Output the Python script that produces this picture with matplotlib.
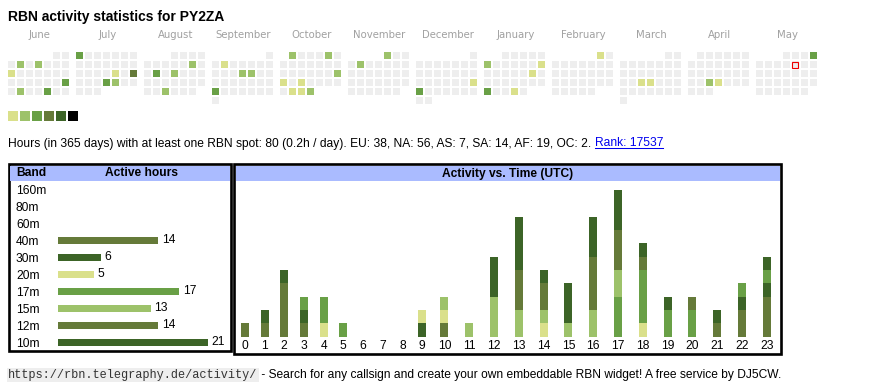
import calendar
import datetime as dt

import matplotlib
matplotlib.use("Agg")
import matplotlib.pyplot as plt
from matplotlib.patches import Rectangle

callsign = "PY2ZA"
first_month = (2024, 6)
today = dt.date(2025, 5, 9)

active_dates = [
    "2024-06-04", "2024-06-06", "2024-06-10", "2024-06-23", "2024-06-25", "2024-06-28",
    "2024-07-01", "2024-07-19", "2024-07-21", "2024-07-25", "2024-07-26",
    "2024-08-10", "2024-08-13", "2024-08-15", "2024-08-28",
    "2024-09-03", "2024-09-12", "2024-09-13", "2024-09-23",
    "2024-10-01", "2024-10-05", "2024-10-20", "2024-10-21", "2024-10-23",
    "2024-10-29", "2024-10-30", "2024-10-31",
    "2024-11-01", "2024-11-05",
    "2024-12-22", "2024-12-23",
    "2025-01-06", "2025-01-12", "2025-01-18", "2025-01-27", "2025-01-30",
    "2025-02-01",
    "2025-03-19", "2025-03-20",
    "2025-04-23", "2025-04-24",
    "2025-05-04",
]
active_levels = [
    2, 2, 1, 3, 2, 3,
    3, 1, 4, 3, 2,
    2, 3, 2, 2,
    1, 2, 2, 3,
    2, 2, 2, 1, 1,
    1, 1, 2,
    2, 2,
    1, 3,
    2, 1, 1, 3, 1,
    1,
    1, 1,
    2, 1,
    3,
]
level_colors = ["#dae08b", "#9dc26a", "#69a046", "#657a39", "#3c6427", "#000000"]

bands = ["160m", "80m", "60m", "40m", "30m", "20m", "17m", "15m", "12m", "10m"]
band_hours = [0, 0, 0, 14, 6, 5, 17, 13, 14, 21]
band_colors = ["#dae08b", "#69a046", "#9dc26a", "#657a39", "#3c6427",
               "#dae08b", "#69a046", "#9dc26a", "#657a39", "#3c6427"]

hours = list(range(24))
# spots per UTC hour, per band (stacked bottom-up in band order)
hour_counts = {
    "40m": [1, 1, 4, 1, 0, 0, 0, 0, 0, 0, 1, 0, 0, 0, 0, 0, 0, 0, 0, 0, 0, 1, 2, 3],
    "30m": [0, 1, 1, 1, 0, 0, 0, 0, 0, 1, 0, 0, 0, 0, 0, 0, 0, 0, 0, 0, 0, 0, 1, 1],
    "20m": [0, 0, 0, 0, 1, 0, 0, 0, 0, 1, 1, 0, 0, 0, 1, 0, 0, 0, 1, 0, 0, 0, 0, 0],
    "17m": [0, 0, 0, 1, 2, 1, 0, 0, 0, 0, 0, 0, 0, 0, 0, 0, 0, 3, 4, 2, 2, 0, 1, 1],
    "15m": [0, 0, 0, 0, 0, 0, 0, 0, 0, 0, 1, 1, 3, 2, 1, 1, 2, 2, 0, 0, 0, 0, 0, 0],
    "12m": [0, 0, 0, 0, 0, 0, 0, 0, 0, 0, 0, 0, 0, 3, 2, 0, 4, 3, 1, 0, 1, 0, 0, 0],
    "10m": [0, 0, 0, 0, 0, 0, 0, 0, 0, 0, 0, 0, 3, 4, 1, 3, 3, 3, 1, 1, 0, 1, 0, 1],
}

info_text = ("Hours (in 365 days) with at least one RBN spot: 80 (0.2h / day). "
             "EU: 38, NA: 56, AS: 7, SA: 14, AF: 19, OC: 2. ")
rank_text = "Rank: 17537"
url_text = "https://rbn.telegraphy.de/activity/"
footer_text = " - Search for any callsign and create your own embeddable RBN widget! A free service by DJ5CW."

SANS = "Liberation Sans"
FS = 8.65  # 12px
W, H = 870, 390
fig = plt.figure(figsize=(W / 100, H / 100), dpi=100)
bg = fig.add_axes([0, 0, 1, 1])
bg.set_xlim(0, W)
bg.set_ylim(H, 0)
bg.axis("off")


def px_axes(x0, y0, x1, y1):
    return fig.add_axes([x0 / W, 1 - y1 / H, (x1 - x0) / W, (y1 - y0) / H])


bg.text(8, 21, f"RBN activity statistics for {callsign}", fontsize=10.0,
        fontweight="bold", family=SANS, va="baseline")

# ---- calendar ----
levels = {dt.date.fromisoformat(d): lv for d, lv in zip(active_dates, active_levels)}
y_m, m_m = first_month
for i in range(12):
    mm = (m_m - 1 + i) % 12 + 1
    yy = y_m + (m_m - 1 + i) // 12
    bx = 8 + i * 68
    bg.text(bx + 31.5, 35, calendar.month_name[mm], fontsize=7.3, color="#a0a0a0",
            ha="center", va="center", family="DejaVu Sans")
    wd0 = dt.date(yy, mm, 1).weekday()
    for d in range(1, calendar.monthrange(yy, mm)[1] + 1):
        day = dt.date(yy, mm, d)
        k = wd0 + d - 1
        x = bx + (k % 7) * 9
        y = 52 + (k // 7) * 9
        lv = levels.get(day, 0)
        c = level_colors[lv - 1] if lv else "#eeeeee"
        bg.add_patch(Rectangle((x, y), 7, 7, facecolor=c, edgecolor="none"))
        if day == today:
            bg.add_patch(Rectangle((x + 0.5, y + 0.5), 6, 6, facecolor="none",
                                   edgecolor="#ee0000", linewidth=0.8))

for i, c in enumerate(level_colors):
    bg.add_patch(Rectangle((8 + i * 12, 111), 10, 10, facecolor=c, edgecolor="none"))

# ---- info line ----
fig.canvas.draw()
r = fig.canvas.get_renderer()
t1 = bg.text(8, 146.5, info_text, fontsize=FS, family=SANS, va="baseline")
w1 = t1.get_window_extent(r).width
t2 = bg.text(8 + w1, 146.5, rank_text, fontsize=FS, family=SANS, va="baseline",
             color="#0000ee")
w2 = t2.get_window_extent(r).width
bg.plot([8 + w1, 8 + w1 + w2], [148.3, 148.3], color="#0000ee", lw=0.75)

# ---- table frames ----
blue = "#aabbff"
bg.add_patch(Rectangle((9, 164), 222, 187, facecolor="none", edgecolor="black", lw=1.9))
bg.add_patch(Rectangle((10.5, 165.5), 219.5, 15.5, facecolor=blue, edgecolor="none"))
bg.add_patch(Rectangle((234.5, 164), 547, 190, facecolor="none", edgecolor="black", lw=1.9))
bg.add_patch(Rectangle((236, 165.5), 544.5, 15.5, facecolor=blue, edgecolor="none"))
bg.text(16, 173.5, "Band", fontsize=FS, fontweight="bold", family=SANS, va="center")
bg.text(141.5, 173.5, "Active hours", fontsize=FS, fontweight="bold", family=SANS,
        va="center", ha="center")
bg.text(508, 173.5, "Activity vs. Time (UTC)", fontsize=FS, fontweight="bold",
        family=SANS, va="center", ha="center")

# ---- active hours per band ----
axl = px_axes(58, 180.8, 230, 350.8)
rows = range(len(bands))
bars = axl.barh(rows, band_hours, height=0.41, color=band_colors)
axl.bar_label(bars, labels=[str(v) if v else "" for v in band_hours], padding=2.7,
              fontsize=FS, family=SANS)
axl.set_xlim(0, 172 / 7.14)
axl.set_ylim(len(bands) - 0.5, -0.5)
axl.set_yticks(list(rows), bands, fontsize=FS, family=SANS)
for lab in axl.get_yticklabels():
    lab.set_ha("left")
axl.tick_params(axis="y", length=0, pad=42 * 0.72)
axl.set_xticks([])
for s in axl.spines.values():
    s.set_visible(False)
axl.patch.set_alpha(0)

# ---- activity vs time ----
col_w = [14.6 + 5.1 * len(str(h)) for h in hours]
centers = []
acc = 0
for w in col_w:
    centers.append(acc + w / 2)
    acc += w
axr = px_axes(235, 181, 781, 336.7)
bottom = [0] * 24
for b in bands:
    if b not in hour_counts:
        continue
    vals = hour_counts[b]
    axr.bar(centers, vals, width=8, bottom=bottom, color=band_colors[bands.index(b)])
    bottom = [p + q for p, q in zip(bottom, vals)]
axr.set_xlim(0, 546)
axr.set_ylim(0, (336.7 - 181) / 13.35)
axr.set_xticks(centers, [str(h) for h in hours], fontsize=FS, family=SANS)
axr.tick_params(axis="x", length=0, pad=2.6)
axr.set_yticks([])
for s in axr.spines.values():
    s.set_visible(False)
axr.patch.set_alpha(0)

# ---- footer ----
t3 = bg.text(8, 378, url_text, fontsize=8.6, family="Liberation Mono", va="baseline",
             color="#333333",
             bbox=dict(boxstyle="square,pad=0.12", facecolor="#eeeeee", edgecolor="none"))
w3 = t3.get_window_extent(r).width
bg.text(8 + w3 + 1, 378, footer_text, fontsize=FS, family=SANS, va="baseline")

fig.savefig("out.png", dpi=100)
